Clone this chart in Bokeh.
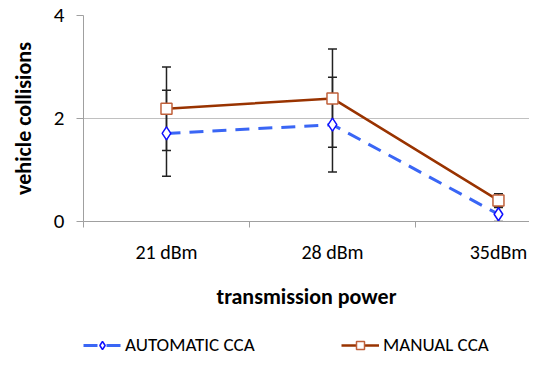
from bokeh.plotting import figure
from bokeh.models import (ColumnDataSource, FixedTicker, Whisker, Legend, LegendItem)
from bokeh.layouts import column
from bokeh.embed import file_html
from bokeh.resources import INLINE

categories = ["21 dBm", "28 dBm", "35dBm"]
auto_vals = [1.71, 1.88, 0.14]
manual_vals = [2.19, 2.39, 0.41]
auto_lower = [0.88, 0.96, 0.0]
auto_upper = [2.55, 2.80, 0.28]
manual_lower = [1.38, 1.44, 0.27]
manual_upper = [3.0, 3.35, 0.54]
y_ticks = [0, 2, 4]
series_names = ["AUTOMATIC CCA", "MANUAL CCA"]

FONT = "Carlito, Calibri, Lato, sans-serif"

AUTO_LINE = dict(line_color="#3a66f5", line_width=3, line_dash="14 9")
AUTO_MARK = dict(marker="diamond", size=13, fill_color="white", line_color="#1010ff", line_width=1.5)
MAN_LINE = dict(line_color="#993300", line_width=2.5)
MAN_MARK = dict(marker="square", size=11, fill_color="white", line_color="#c0603a", line_width=1.5)

xs = list(range(len(categories)))
src_a = ColumnDataSource(dict(x=xs, y=auto_vals, lo=auto_lower, hi=auto_upper))
src_m = ColumnDataSource(dict(x=xs, y=manual_vals, lo=manual_lower, hi=manual_upper))

p = figure(frame_width=446, frame_height=206, output_backend="svg", toolbar_location=None,
           x_range=(-0.5, 2.187), y_range=(0, 4))
p.min_border_left = 83
p.min_border_right = 0
p.min_border_top = 15
p.min_border_bottom = 112
p.outline_line_color = None
p.background_fill_color = "white"
p.border_fill_color = "white"

# grid
p.xgrid.visible = False
p.ygrid.ticker = FixedTicker(ticks=y_ticks)
p.ygrid.grid_line_color = "#c0c0c0"
p.ygrid.grid_line_width = 1

# whiskers
for src in (src_m, src_a):
    w = Whisker(source=src, base="x", upper="hi", lower="lo", dimension="height",
                line_color="#222222", line_width=1.5)
    w.upper_head.size = 9
    w.lower_head.size = 9
    w.upper_head.line_color = "#222222"
    w.lower_head.line_color = "#222222"
    w.upper_head.line_width = 1.5
    w.lower_head.line_width = 1.5
    p.add_layout(w)

p.line("x", "y", source=src_a, **AUTO_LINE)
p.scatter("x", "y", source=src_a, **AUTO_MARK)
p.line("x", "y", source=src_m, **MAN_LINE)
p.scatter("x", "y", source=src_m, **MAN_MARK)

# x axis
xa = p.xaxis[0]
xa.ticker = FixedTicker(ticks=xs, minor_ticks=[-0.5, 0.5, 1.5])
xa.major_label_overrides = {i: c for i, c in enumerate(categories)}
xa.major_tick_out = 0
xa.major_tick_in = 0
xa.minor_tick_out = 6
xa.minor_tick_in = 0
xa.minor_tick_line_color = "#a0a0a0"
xa.axis_line_color = "#a0a0a0"
xa.major_label_text_font = FONT
xa.major_label_text_font_size = "20px"
xa.major_label_text_color = "#000000"
xa.major_label_standoff = 12
xa.axis_label = "transmission power"
xa.axis_label_text_font = FONT
xa.axis_label_text_font_size = "22px"
xa.axis_label_text_font_style = "bold"
xa.axis_label_text_color = "#000000"
xa.axis_label_standoff = 16

# y axis
ya = p.yaxis[0]
ya.ticker = FixedTicker(ticks=y_ticks, minor_ticks=[])
ya.major_tick_out = 7
ya.major_tick_in = 0
ya.major_tick_line_color = "#a0a0a0"
ya.axis_line_color = "#a0a0a0"
ya.major_label_text_font = FONT
ya.major_label_text_font_size = "21px"
ya.major_label_text_color = "#000000"
ya.major_label_standoff = 12
ya.axis_label = "vehicle collisions"
ya.axis_label_text_font = FONT
ya.axis_label_text_font_size = "22px"
ya.axis_label_text_font_style = "bold"
ya.axis_label_text_color = "#000000"
ya.axis_label_standoff = 14

# legend strip: a second small figure below the chart, whose view range
# lies outside the data so only the legend is seen
lg = figure(width=529, height=28, output_backend="svg", toolbar_location=None,
            x_range=(10, 11), y_range=(10, 11), x_axis_type=None, y_axis_type=None)
lg.min_border = 0
lg.outline_line_color = None
lg.xgrid.visible = False
lg.ygrid.visible = False
lg.border_fill_color = "white"
lg.background_fill_color = "white"

dla = lg.line("x", "y", source=src_a, **AUTO_LINE)
dsa = lg.scatter("x", "y", source=src_a, **AUTO_MARK)
dlm = lg.line("x", "y", source=src_m, **MAN_LINE)
dsm = lg.scatter("x", "y", source=src_m, **MAN_MARK)

legend = Legend(items=[LegendItem(label=series_names[0], renderers=[dla, dsa]),
                       LegendItem(label=series_names[1], renderers=[dlm, dsm])],
                orientation="horizontal", location="top_left")
legend.label_text_font = FONT
legend.label_text_font_size = "19px"
legend.label_text_color = "#000000"
legend.glyph_width = 38
legend.glyph_height = 20
legend.label_standoff = 4
legend.label_width = 150
legend.spacing = 66
legend.border_line_color = None
legend.background_fill_alpha = 0
legend.margin = 0
legend.padding = 4
legend.padding = 4
lg.add_layout(legend, "center")

layout = column(p, lg, spacing=0)
open("out.html", "w").write(file_html(layout, INLINE))
